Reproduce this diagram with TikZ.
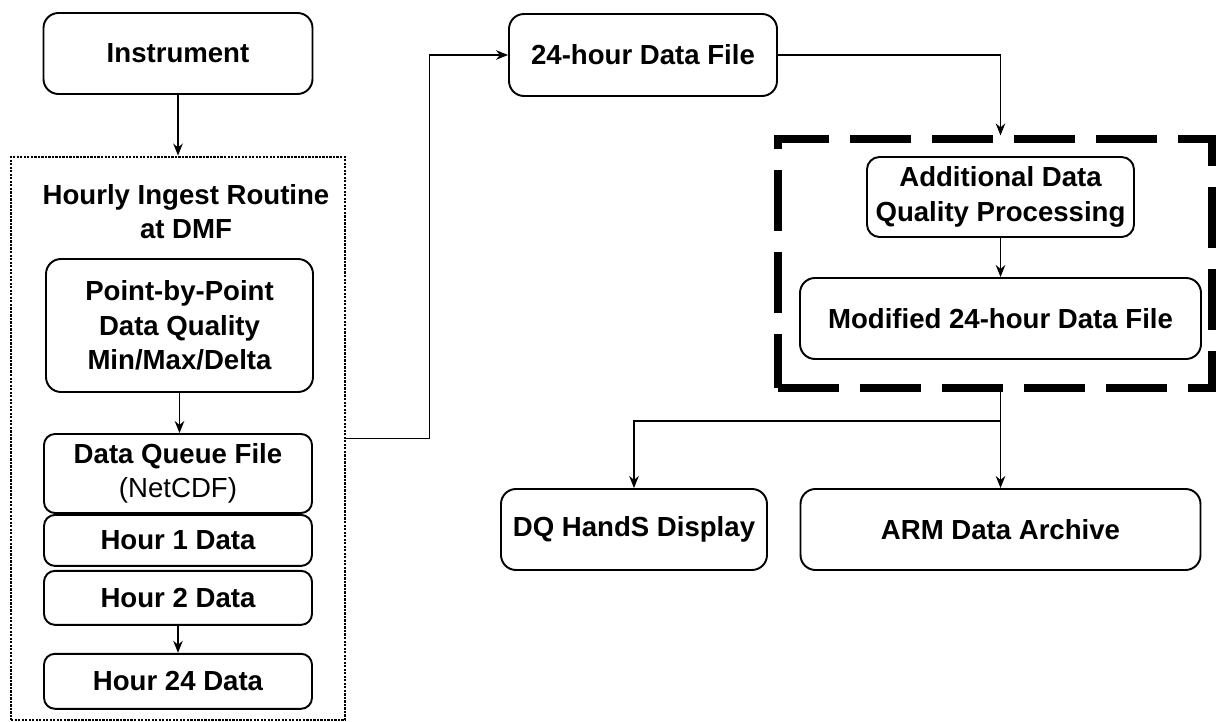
\documentclass[tikz,border=0pt]{standalone}
\usepackage{fontspec}
\setmainfont{Liberation Sans}
\usetikzlibrary{arrows.meta,positioning}
\begin{document}
\begin{tikzpicture}[
        block/.style={rectangle, draw, rounded corners=0.3cm, line width=1.1pt, align=center, inner sep=2pt, font=\bfseries\fontsize{15.7}{19.5}\selectfont},
        hourbox/.style={block, rounded corners=0.22cm, minimum width=5.36cm},
        routine/.style={rectangle, draw, line width=1.6pt, dash pattern=on 1.3pt off 0.7pt, minimum width=6.68cm, minimum height=11.26cm},
        qcbox/.style={rectangle, draw, line width=4pt, dash pattern=on 1.22cm off 0.42cm, minimum width=8.68cm, minimum height=4.98cm},
        arrow/.style={-{Stealth[length=2.4mm,width=1.9mm]}, line width=1pt},
        line/.style={line width=1pt}
      ]
        \useasboundingbox (0,0) rectangle (24.32,-14.44);

        % Left column - ingest at DMF
        \node[block, minimum width=5.38cm, minimum height=1.62cm] (instrument) at (3.56,-1.07) {Instrument};
        \node[routine] (routine) at (3.56,-8.77) {};
        \node[align=center, font=\bfseries\fontsize{15.7}{19.5}\selectfont] (routinetitle) at (3.72,-4.23) {Hourly Ingest Routine\\at DMF};
        \node[block, minimum width=5.34cm, minimum height=2.66cm] (point) at (3.59,-6.51) {Point-by-Point\\Data Quality\\Min/Max/Delta};
        \node[hourbox, minimum height=1.58cm] (queue) at (3.56,-9.47) {Data Queue File\\\mdseries(NetCDF)};
        \node[hourbox, minimum height=1.02cm, below=0pt of queue] (hourone) {Hour 1 Data};
        \node[hourbox, minimum height=1.08cm, below=0.06cm of hourone] (hourtwo) {Hour 2 Data};
        \node[hourbox, minimum height=1.1cm, below=0.54cm of hourtwo] (hourlast) {Hour 24 Data};

        % Right side - daily file and quality processing
        \node[block, minimum width=5.36cm, minimum height=1.64cm] (dayfile) at (12.86,-1.10) {24-hour Data File};
        \node[qcbox] (qc) at (19.9,-5.27) {};
        \node[block, rounded corners=0.25cm, minimum width=5.34cm, minimum height=1.6cm] (additional) at (20.01,-3.94) {Additional Data\\Quality Processing};
        \node[block, minimum width=8.02cm, minimum height=1.62cm] (modified) at (20.01,-6.37) {Modified 24-hour Data File};

        % Bottom level
        \node[block, minimum width=5.32cm, minimum height=1.62cm] (display) at (12.68,-10.59) {DQ HandS Display};
        \node[block, minimum width=8.0cm, minimum height=1.62cm] (archive) at (20.01,-10.59) {ARM Data Archive};
        \coordinate (split) at (20.01,-8.42);

        % Arrows
        \draw[arrow] (instrument) -- (routine);
        \draw[arrow] (point.south) -- (point.south |- queue.north);
        \draw[arrow] (hourtwo) -- (hourlast);
        \draw[arrow] (routine.east) -- ++(1.66,0) |- (dayfile.west);
        \draw[arrow] (dayfile.east) -| (additional.north |- qc.north);
        \draw[arrow] (additional) -- (modified);
        \draw[line] (qc.south -| split) -- (split);
        \draw[arrow] (split) -| (display.north);
        \draw[arrow] (split) -- (archive.north);
      \end{tikzpicture}
\end{document}
